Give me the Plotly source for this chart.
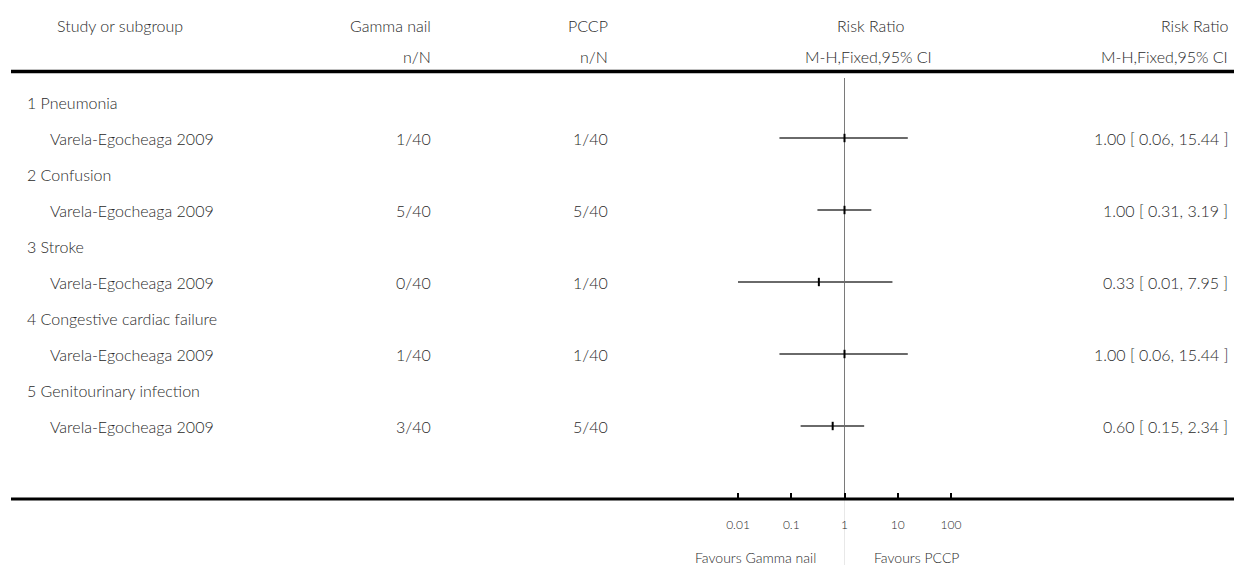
import math
import plotly.graph_objects as go

# ---- data ----
subgroups = ["1 Pneumonia", "2 Confusion", "3 Stroke",
             "4 Congestive cardiac failure", "5 Genitourinary infection"]
studies = ["Varela-Egocheaga 2009"] * 5
gamma_n = [1, 5, 0, 1, 3]
gamma_N = [40, 40, 40, 40, 40]
pccp_n = [1, 5, 1, 1, 5]
pccp_N = [40, 40, 40, 40, 40]
rr = [1.00, 1.00, 0.33, 1.00, 0.60]
ci_lo = [0.06, 0.31, 0.01, 0.06, 0.15]
ci_hi = [15.44, 3.19, 7.95, 15.44, 2.34]
tick_vals = [0.01, 0.1, 1, 10, 100]
tick_text = ["0.01", "0.1", "1", "10", "100"]
null_value = 1
fav_left = "Favours Gamma nail"
fav_right = "Favours PCCP"

# ---- layout helpers ----
W, H = 1234, 565
FONT = "Lato"
TXT = "#2a2a2a"
FS = 16
Y0, DY = 102, 36  # pixel of first row, row pitch
DEC = 53.25       # pixels per decade on the forest axis
X1 = 844.5        # pixel of RR = 1


def px_to_row(p):
    return (p - Y0) / DY


def px(xp):
    return xp / W


fig = go.Figure()

study_rows = [2 * i + 1 for i in range(len(subgroups))]
sub_rows = [2 * i for i in range(len(subgroups))]
top_line = px_to_row(71.5)
bot_line = px_to_row(499)

# line of no effect
fig.add_trace(go.Scatter(x=[null_value, null_value], y=[px_to_row(78), bot_line],
                         mode="lines", line=dict(color="#7a7a7a", width=1),
                         hoverinfo="skip", showlegend=False, cliponaxis=False))
fig.add_trace(go.Scatter(x=[null_value, null_value], y=[bot_line, px_to_row(H)],
                         mode="lines", line=dict(color="#e8e8e8", width=1),
                         hoverinfo="skip", showlegend=False, cliponaxis=False))

for r, lo, hi in zip(study_rows, ci_lo, ci_hi):
    fig.add_trace(go.Scatter(x=[lo, hi], y=[r, r], mode="lines",
                             line=dict(color="#6a6a6a", width=2),
                             hoverinfo="skip", showlegend=False, cliponaxis=False))
fig.add_trace(go.Scatter(x=rr, y=study_rows, mode="markers",
                         marker=dict(symbol="line-ns", size=6,
                                     line=dict(color="black", width=2)),
                         showlegend=False, cliponaxis=False))

annos = []


def txt(x, y, s, anchor, size=FS):
    annos.append(dict(x=px(x), xref="paper", y=y, yref="y", text=s,
                      showarrow=False, xanchor=anchor, yanchor="middle",
                      font=dict(family=FONT, size=size, color=TXT, weight=300)))


hy1, hy2 = px_to_row(25), px_to_row(56)
txt(120, hy1, "Study or subgroup", "center")
txt(433, hy1, "Gamma nail", "right")
txt(433, hy2, "n/N", "right")
txt(610, hy1, "PCCP", "right")
txt(610, hy2, "n/N", "right")
txt(870, hy1, "Risk Ratio", "center")
txt(868, hy2, "M-H,Fixed,95% CI", "center")
txt(1230, hy1, "Risk Ratio", "right")
txt(1230, hy2, "M-H,Fixed,95% CI", "right")

for i in range(len(subgroups)):
    txt(25, sub_rows[i], subgroups[i], "left")
    r = study_rows[i]
    txt(48, r, studies[i], "left")
    txt(433, r, f"{gamma_n[i]}/{gamma_N[i]}", "right")
    txt(610, r, f"{pccp_n[i]}/{pccp_N[i]}", "right")
    txt(1230, r, f"{rr[i]:.2f} [ {ci_lo[i]:.2f}, {ci_hi[i]:.2f} ]", "right")

# annotations on a log axis take log10 positions
fy = px_to_row(557)
annos.append(dict(x=math.log10(null_value), xref="x", y=fy, yref="y", text=fav_left,
                  showarrow=False, xanchor="right", yanchor="middle", xshift=-27,
                  font=dict(family=FONT, size=14, color=TXT, weight=300)))
annos.append(dict(x=math.log10(null_value), xref="x", y=fy, yref="y", text=fav_right,
                  showarrow=False, xanchor="left", yanchor="middle", xshift=27,
                  font=dict(family=FONT, size=14, color=TXT, weight=300)))

shapes = [
    dict(type="line", xref="paper", yref="y", x0=px(11), x1=1, y0=top_line, y1=top_line,
         line=dict(color="black", width=3.5)),
    dict(type="line", xref="paper", yref="y", x0=px(11), x1=1, y0=bot_line, y1=bot_line,
         line=dict(color="black", width=3)),
]

R = 2.1
fig.update_layout(
    width=W, height=H,
    margin=dict(l=0, r=0, t=0, b=0, autoexpand=False),
    paper_bgcolor="white", plot_bgcolor="rgba(0,0,0,0)",
    annotations=annos, shapes=shapes,
    xaxis=dict(type="log", range=[-R, R],
               domain=[px(X1 - R * DEC), px(X1 + R * DEC)],
               anchor="free", position=1 - 499 / H,
               tickvals=tick_vals, ticktext=tick_text,
               ticks="inside", ticklen=6, tickwidth=2, tickcolor="black",
               showline=False, showgrid=False, zeroline=False,
               ticklabelstandoff=17, automargin=False,
               tickfont=dict(family=FONT, size=12, color=TXT, weight=300),
               fixedrange=True),
    yaxis=dict(range=[px_to_row(H), px_to_row(0)], domain=[0, 1],
               visible=False, showgrid=False, zeroline=False, fixedrange=True,
               automargin=False),
    showlegend=False,
)

fig.write_html(
    "out.html",
    config={"displayModeBar": False, "staticPlot": True},
    post_script=("document.body.style.margin='0';"
                 "document.body.style.overflow='hidden';"
                 "document.documentElement.style.overflow='hidden';"),
)
